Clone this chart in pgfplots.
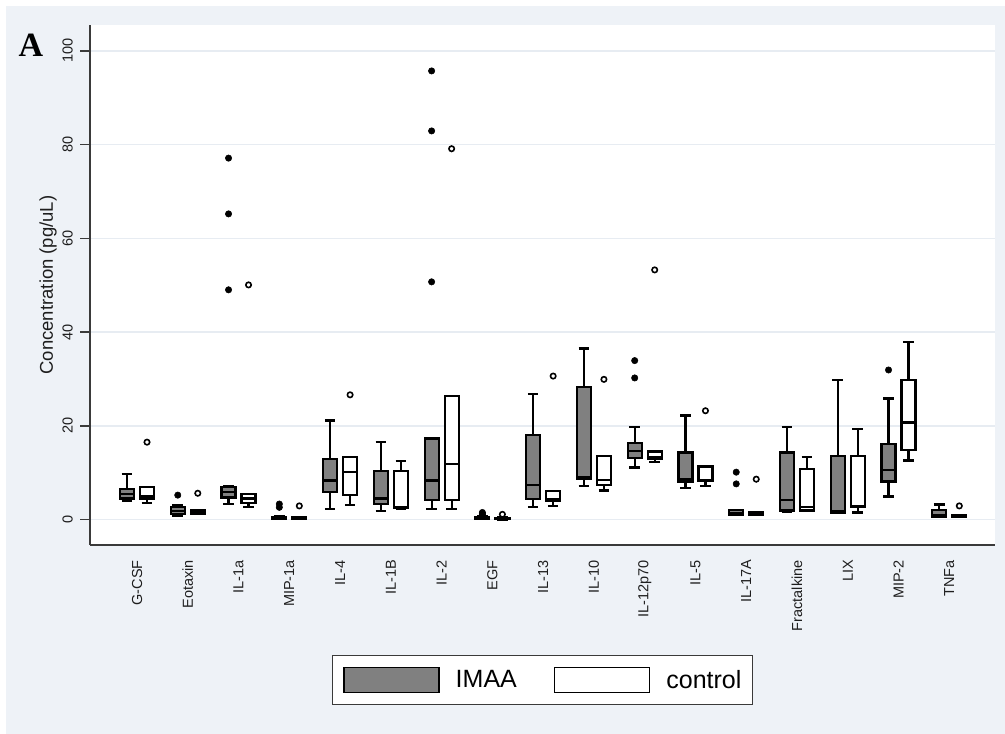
\documentclass[border=0pt]{standalone}
\usepackage{fontspec}
\setmainfont{Liberation Sans}
\newfontfamily\tnr{Liberation Serif}
\usepackage{pgfplots}
\pgfplotsset{compat=1.18}
\usepgfplotslibrary{statistics}
\definecolor{bgc}{HTML}{EEF2F7}
\definecolor{gridc}{HTML}{E7ECF2}
\definecolor{axc}{HTML}{3A3A3A}
\definecolor{imaagray}{HTML}{808080}
\definecolor{tickc}{HTML}{1E1E1E}
\pgfplotsset{
  boxplot/every box/.append style={line width=2.2pt},
  boxplot/every whisker/.append style={line width=2.2pt},
  boxplot/every median/.append style={line width=2.2pt},
  imaa/.style={forget plot, draw=black, line width=2.2pt, mark=*, mark size=3.2pt,
    mark options={fill=black, draw=black, line width=0.5pt},
    boxplot/draw direction=y,
    boxplot/box extend=0.276, boxplot/whisker extend=0.21,
    boxplot/every box/.style={fill=imaagray, draw=black, line width=2.2pt},
    boxplot/every whisker/.style={draw=black, line width=2.2pt},
    boxplot/every median/.style={draw=black, line width=2.2pt}},
  ctrl/.style={forget plot, draw=black, line width=2.2pt, mark=o, mark size=2.7pt,
    mark options={fill=white, draw=black, line width=1.6pt},
    boxplot/draw direction=y,
    boxplot/box extend=0.276, boxplot/whisker extend=0.21,
    boxplot/every box/.style={fill=white, draw=black, line width=2.2pt},
    boxplot/every whisker/.style={draw=black, line width=2.2pt},
    boxplot/every median/.style={draw=black, line width=2.2pt}},
}
% style, position, lw, lq, med, uq, uw
\newcommand{\bp}[7]{\addplot[#1, boxplot prepared={draw direction=y, draw position=#2, lower whisker=#3, lower quartile=#4, median=#5, upper quartile=#6, upper whisker=#7}] coordinates {};}
% style, position, lw, lq, med, uq, uw, outliers
\newcommand{\bpo}[8]{\addplot[#1, boxplot prepared={draw direction=y, draw position=#2, lower whisker=#3, lower quartile=#4, median=#5, upper quartile=#6, upper whisker=#7}] table[row sep=\\, y index=0] {data\\ #8};}
\begin{document}
\begin{tikzpicture}
\useasboundingbox (0,0) rectangle (1005pt,734pt);
\fill[white] (0,0) rectangle (1005pt,734pt);
\fill[bgc] (6pt,0) rectangle (1005pt,728pt);
\node[anchor=base, font=\tnr\bfseries\fontsize{34}{40}\selectfont] at (31pt,677pt) {A};
\begin{axis}[
  at={(90pt,189pt)}, anchor=south west, scale only axis,
  width=905pt, height=520pt,
  xmin=-0.926, xmax=16.9, ymin=-5.44, ymax=105.5,
  axis background/.style={fill=white},
  axis x line*=bottom, axis y line*=left,
  axis line style={-, line width=1.6pt, draw=axc},
  ymajorgrids, grid style={gridc, line width=1.5pt},
  ytick={0,20,40,60,80,100},
  xtick={0,...,16},
  xticklabels={G-CSF,Eotaxin,IL-1a,MIP-1a,IL-4,IL-1B,IL-2,EGF,IL-13,IL-10,IL-12p70,IL-5,IL-17A,Fractalkine,LIX,MIP-2,TNFa},
  xtick style={draw=none}, 
  ytick style={draw=axc, line width=1.5pt},
  ytick align=outside, major tick length=10pt,
  /pgf/number format/assume math mode=true,
  yticklabel style={xshift=-7pt, font=\fontsize{14.5}{17}\selectfont, text=tickc, rotate=90, anchor=south, inner sep=0pt},
  xticklabel style={yshift=-15pt, font=\fontsize{14.5}{17}\selectfont, text=tickc, rotate=90, anchor=east, inner sep=0pt},
  ylabel={Concentration (pg/uL)},
  every axis y label/.style={at={(axis description cs:-0.0464,0.5)}, rotate=90, anchor=center, font=\fontsize{18.5}{22}\selectfont, text=tickc},
  legend columns=2,
  legend image code/.code={\draw[#1, draw=black, line width=1.5pt] (0pt,-12.35pt) rectangle (95pt,12.35pt);},
  legend style={at={(0.4998,-0.2596)}, anchor=center, draw=axc, line width=1pt, fill=white,
    inner xsep=11pt, inner ysep=11pt, font=\fontsize{25}{30}\selectfont,
    nodes={inner sep=0pt},
    /tikz/every odd column/.append style={column sep=16pt},
    /tikz/every even column/.append style={column sep=37pt}},
]
\addlegendimage{fill=imaagray}
\addlegendentry{IMAA}
\addlegendimage{fill=white}
\addlegendentry{control}
% 0 G-CSF
\bp{imaa}{-0.197}{3.9}{4.5}{5.4}{6.5}{9.7}
\bpo{ctrl}{0.197}{3.5}{4.5}{5.0}{6.9}{6.9}{16.5\\}
% 1 Eotaxin
\bpo{imaa}{0.803}{0.8}{1.1}{1.8}{2.6}{3.0}{5.2\\}
\bpo{ctrl}{1.197}{1.2}{1.3}{1.5}{1.9}{2.0}{5.6\\}
% 2 IL-1a
\bpo{imaa}{1.803}{3.3}{4.7}{5.9}{7.0}{7.2}{77.1\\ 65.2\\ 49.0\\}
\bpo{ctrl}{2.197}{2.6}{3.6}{4.5}{5.4}{5.4}{50.05\\}
% 3 MIP-1a
\bpo{imaa}{2.803}{0.1}{0.2}{0.3}{0.6}{0.8}{3.3\\ 2.6\\}
\bpo{ctrl}{3.197}{0.1}{0.1}{0.2}{0.5}{0.6}{2.9\\}
% 4 IL-4
\bp{imaa}{3.803}{2.2}{5.9}{8.3}{12.9}{21.1}
\bpo{ctrl}{4.197}{3.1}{5.2}{10.2}{13.4}{13.4}{26.6\\}
% 5 IL-1B
\bp{imaa}{4.803}{1.8}{3.3}{4.5}{10.4}{16.5}
\bp{ctrl}{5.197}{2.3}{2.5}{2.6}{10.4}{12.5}
% 6 IL-2
\bpo{imaa}{5.803}{2.2}{4.2}{8.3}{17.3}{17.3}{95.7\\ 82.9\\ 50.7\\}
\bpo{ctrl}{6.197}{2.2}{4.2}{11.8}{26.4}{26.4}{79.1\\}
% 7 EGF
\bpo{imaa}{6.803}{0.1}{0.2}{0.4}{0.6}{0.8}{1.5\\ 1.2\\ 1.0\\}
\bpo{ctrl}{7.197}{0.0}{0.1}{0.2}{0.4}{0.5}{1.1\\}
% 8 IL-13
\bp{imaa}{7.803}{2.7}{4.3}{7.4}{18.0}{26.8}
\bpo{ctrl}{8.197}{2.9}{4.0}{4.3}{6.1}{6.1}{30.6\\}
% 9 IL-10
\bp{imaa}{8.803}{7.2}{8.6}{9.1}{28.3}{36.5}
\bpo{ctrl}{9.197}{6.2}{7.4}{8.4}{13.6}{13.6}{29.9\\}
% 10 IL-12p70
\bpo{imaa}{9.803}{11.1}{13.2}{14.6}{16.3}{19.8}{33.9\\ 30.2\\}
\bpo{ctrl}{10.197}{12.3}{12.9}{13.4}{14.5}{14.5}{53.25\\}
% 11 IL-5
\bp{imaa}{10.803}{6.8}{8.1}{8.6}{14.3}{22.2}
\bpo{ctrl}{11.197}{7.1}{8.2}{8.4}{11.3}{11.3}{23.2\\}
% 12 IL-17A
\bpo{imaa}{11.803}{0.9}{1.0}{1.4}{2.0}{2.1}{10.1\\ 7.6\\}
\bpo{ctrl}{12.197}{0.9}{1.0}{1.2}{1.6}{1.6}{8.6\\}
% 13 Fractalkine
\bp{imaa}{12.803}{1.7}{1.9}{4.2}{14.3}{19.8}
\bp{ctrl}{13.197}{1.8}{1.9}{2.6}{10.8}{13.3}
% 14 LIX
\bp{imaa}{13.803}{1.4}{1.5}{1.8}{13.6}{29.8}
\bp{ctrl}{14.197}{1.5}{2.6}{2.8}{13.6}{19.3}
% 15 MIP-2
\bpo{imaa}{14.803}{4.9}{8.1}{10.6}{16.1}{25.8}{31.9\\}
\bp{ctrl}{15.197}{12.6}{14.8}{20.7}{29.8}{37.8}
% 16 TNFa
\bp{imaa}{15.803}{0.5}{0.5}{1.0}{2.0}{3.2}
\bpo{ctrl}{16.197}{0.5}{0.5}{0.7}{1.0}{1.0}{2.9\\}
\end{axis}
\end{tikzpicture}
\end{document}
